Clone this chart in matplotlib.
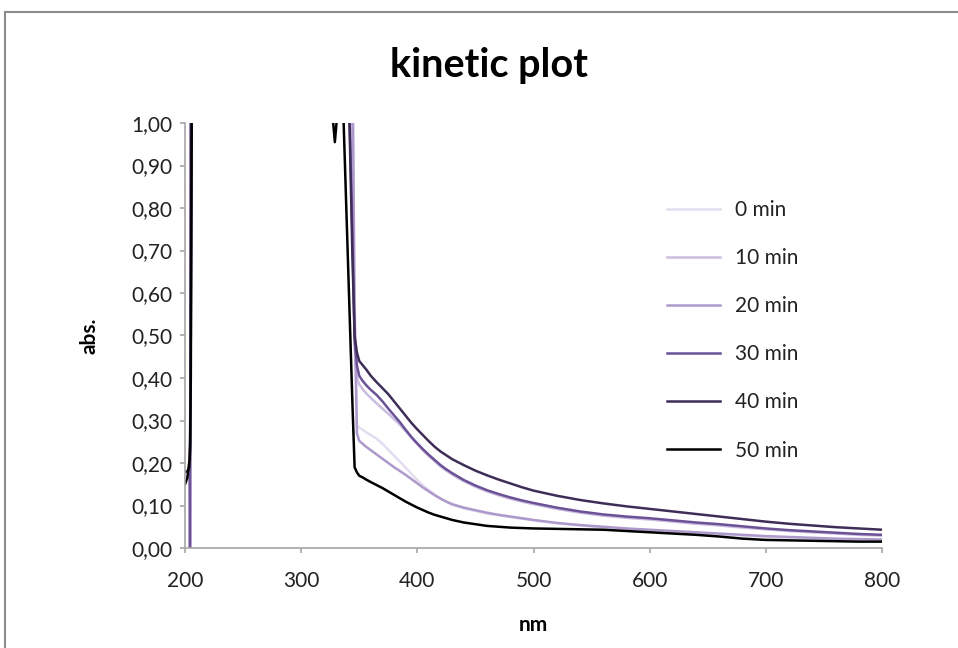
import matplotlib
matplotlib.use("Agg")
import matplotlib.pyplot as plt
from matplotlib.lines import Line2D
from matplotlib.ticker import FuncFormatter, MultipleLocator

plt.rcParams['font.family'] = ['Lato', 'DejaVu Sans']

# wavelength grid (nm) shared by the series; values > 1 run off the top of the axes
WL = [200, 202, 204, 204.4, 205, 206, 208,
      326, 329, 332, 336, 340, 344, 346, 348, 350,
      353, 356, 360, 365, 370, 375, 380, 385, 390, 395, 400,
      405, 410, 415, 420, 425, 430, 440, 450, 460, 470, 480, 490, 500,
      520, 540, 560, 580, 600, 620, 640, 660, 680, 700, 720, 740, 760, 780, 800]

ABS_0 = [0.18, 0.18, 0.19, 0.25, 0.6, 1.3, 1.5,
         1.5, 1.5, 1.5, 1.5, 1.5, 1.2, 0.6, 0.29, 0.283,
         0.278, 0.272, 0.266, 0.257, 0.245, 0.231, 0.217, 0.203, 0.189, 0.174, 0.16,
         0.147, 0.136, 0.126, 0.117, 0.109, 0.102, 0.093, 0.087, 0.081, 0.077, 0.073, 0.069, 0.065,
         0.058, 0.053, 0.048, 0.044, 0.041, 0.038, 0.035, 0.032, 0.029, 0.026, 0.024, 0.022, 0.02, 0.019, 0.018]
ABS_10 = [0.18, 0.18, 0.19, 0.25, 0.6, 1.3, 1.5,
          1.5, 1.5, 1.5, 1.5, 1.4, 0.9, 0.47, 0.40, 0.385,
          0.373, 0.364, 0.353, 0.34, 0.328, 0.316, 0.303, 0.29, 0.275, 0.259, 0.244,
          0.229, 0.216, 0.204, 0.192, 0.182, 0.173, 0.157, 0.144, 0.133, 0.124, 0.116, 0.109, 0.103,
          0.092, 0.083, 0.076, 0.071, 0.067, 0.062, 0.057, 0.053, 0.048, 0.044, 0.04, 0.037, 0.034, 0.031, 0.029]
ABS_20 = [0.18, 0.18, 0.19, 0.25, 0.6, 1.3, 1.5,
          1.5, 1.5, 1.5, 1.5, 1.5, 1.2, 0.55, 0.27, 0.252,
          0.245, 0.238, 0.23, 0.22, 0.21, 0.2, 0.19, 0.181, 0.172, 0.162, 0.152,
          0.142, 0.133, 0.124, 0.116, 0.109, 0.103, 0.095, 0.089, 0.083, 0.078, 0.074, 0.07, 0.066,
          0.059, 0.054, 0.05, 0.046, 0.043, 0.04, 0.037, 0.034, 0.031, 0.028, 0.026, 0.024, 0.022, 0.021, 0.02]
ABS_30 = [0.18, 0.18, 0.18, -0.5, 2.0, 1.5, 1.5,
          1.5, 1.5, 1.5, 1.5, 1.2, 0.75, 0.49, 0.43, 0.405,
          0.393, 0.383, 0.372, 0.36, 0.345, 0.328, 0.312, 0.296, 0.278, 0.261, 0.246,
          0.232, 0.219, 0.207, 0.195, 0.185, 0.176, 0.16, 0.147, 0.136, 0.127, 0.119, 0.112, 0.106,
          0.095, 0.086, 0.079, 0.074, 0.07, 0.065, 0.06, 0.056, 0.051, 0.046, 0.042, 0.039, 0.036, 0.033, 0.031]
ABS_40 = [0.18, 0.18, 0.19, 0.25, 0.5, 1.3, 1.5,
          1.5, 1.5, 1.5, 1.5, 1.2, 0.7, 0.50, 0.46, 0.44,
          0.43, 0.42, 0.405, 0.39, 0.376, 0.362, 0.345, 0.328, 0.311, 0.294, 0.279,
          0.265, 0.251, 0.238, 0.227, 0.218, 0.209, 0.195, 0.182, 0.171, 0.161, 0.152, 0.143, 0.135,
          0.123, 0.113, 0.105, 0.098, 0.092, 0.086, 0.08, 0.074, 0.068, 0.062, 0.057, 0.053, 0.049, 0.046, 0.043]
ABS_50 = [0.15, 0.165, 0.21, 0.24, 0.40, 1.2, 1.5,
          1.05, 0.955, 1.05, 1.05, 0.70, 0.35, 0.19, 0.178, 0.17,
          0.166, 0.161, 0.155, 0.148, 0.141, 0.133, 0.125, 0.117, 0.109, 0.102, 0.095,
          0.089, 0.083, 0.078, 0.074, 0.07, 0.066, 0.06, 0.056, 0.052, 0.05, 0.048, 0.047, 0.046,
          0.045, 0.044, 0.043, 0.04, 0.037, 0.034, 0.031, 0.027, 0.022, 0.019, 0.018, 0.017, 0.016, 0.015, 0.015]

LABELS = ["0 min", "10 min", "20 min", "30 min", "40 min", "50 min"]
COLORS = ["#e3ddee", "#cbbddf", "#ad99cb", "#6b5196", "#3e2d57", "#000000"]
SERIES = [ABS_0, ABS_10, ABS_20, ABS_30, ABS_40, ABS_50]

fig = plt.figure(figsize=(9.58, 6.48), dpi=100)
ax = fig.add_axes([185 / 958, 1 - 548 / 648, (882 - 185) / 958, (548 - 123) / 648])

for vals, col, lab in zip(SERIES, COLORS, LABELS):
    ax.plot(WL, vals, color=col, lw=1.8, label=lab, solid_joinstyle='round')

ax.set_xlim(200, 800)
ax.set_ylim(0, 1)
ax.xaxis.set_major_locator(MultipleLocator(100))
ax.yaxis.set_major_locator(MultipleLocator(0.1))
ax.yaxis.set_major_formatter(FuncFormatter(lambda v, p: f"{v:.2f}".replace(".", ",")))

for s in ["top", "right"]:
    ax.spines[s].set_visible(False)
for s in ["left", "bottom"]:
    ax.spines[s].set_color("#a6a6a6")
    ax.spines[s].set_linewidth(1.2)
ax.tick_params(colors="#a6a6a6", length=3.6, width=1.2, labelcolor="#222222", labelsize=15)
ax.tick_params(axis="x", pad=13)
ax.tick_params(axis="y", pad=5.5)

ax.set_xlabel("nm", fontsize=15, fontweight="bold", va="center")
ax.set_ylabel("abs.", fontsize=15, fontweight="bold", va="center")
ax.xaxis.set_label_coords(0.5, (548 - 625) / 425)
ax.yaxis.set_label_coords((90 - 185) / 697, 0.5)

fig.text(489 / 958, 1 - 65 / 648, "kinetic plot", ha="center", va="center",
         fontsize=28.5, fontweight="bold")

leg = ax.legend(loc="upper left", bbox_to_anchor=(667 / 958, 1 - 200 / 648),
                bbox_transform=fig.transFigure, frameon=False, fontsize=15,
                handlelength=2.55, handletextpad=0.72, labelspacing=1.35,
                borderpad=0, borderaxespad=0)
for t in leg.get_texts():
    t.set_color("#222222")

# outer chart frame (cropped at right and bottom)
fig.add_artist(Line2D([5 / 958, 1.0], [1 - 12 / 648, 1 - 12 / 648],
                      transform=fig.transFigure, color="#8c8c8c", lw=1.5))
fig.add_artist(Line2D([5 / 958, 5 / 958], [0.0, 1 - 12 / 648],
                      transform=fig.transFigure, color="#8c8c8c", lw=1.5))

fig.savefig("out.png", dpi=100)
